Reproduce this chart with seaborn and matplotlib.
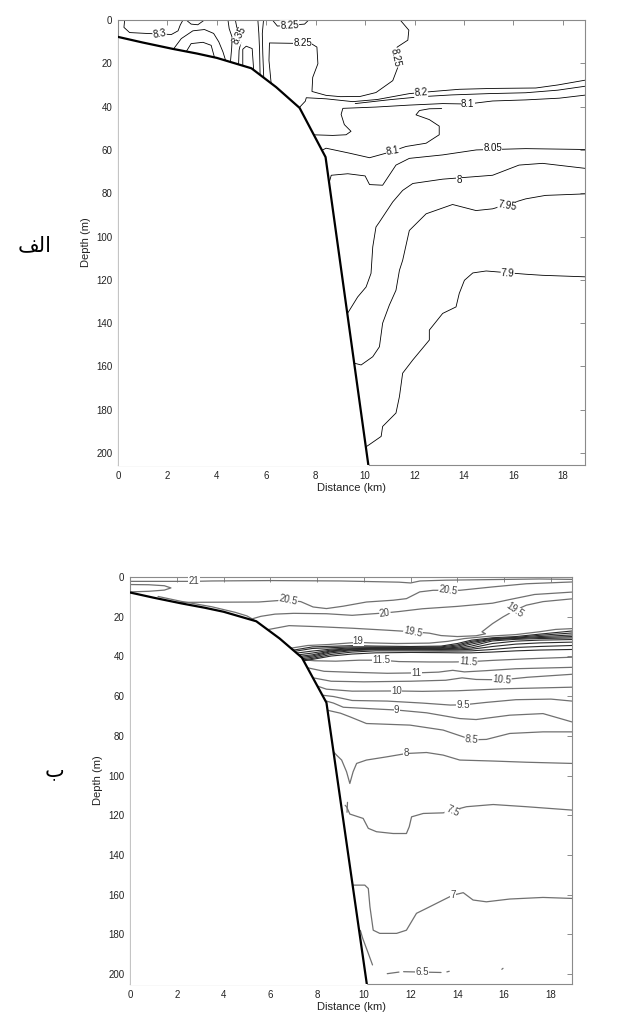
import matplotlib
matplotlib.use("Agg")
import matplotlib.pyplot as plt
import pandas as pd
import seaborn as sns

# ---------------- data (km, depth m) ----------------
bathy_km = [0.0, 1.0, 2.2, 3.2, 4.0, 5.4, 6.4, 7.35, 8.4, 10.15]
bathy_depth = [7.8, 10.4, 13.3, 15.5, 17.5, 22.3, 31.0, 40.6, 63.3, 207.0]

# panel (a) isolines
ph_830 = [(0.27, 0.0), (0.24, 3.4), (0.47, 5.8), (1.15, 6.2), (2.16, 6.7), (2.43, 5.0), (2.52, 2.3), (2.63, 0.0)]
ph_arc = [(2.76, 0.0), (2.96, 1.9), (3.23, 2.2), (3.5, 0.0)]
ph_dome_out = [(2.22, 13.8), (2.56, 8.6), (3.03, 5.0), (3.5, 4.4), (3.87, 6.2), (4.08, 10.1), (4.25, 14.8), (4.35, 18.5)]
ph_dome_in = [(2.74, 15.0), (2.96, 10.9), (3.44, 10.3), (3.77, 11.7), (3.91, 17.5)]
ph_835a = [(4.45, 0.0), (4.5, 4.0), (4.62, 8.0), (4.6, 13.0), (4.55, 19.5)]
ph_835b = [(4.75, 0.0), (4.8, 3.0), (4.92, 7.0), (4.98, 10.0), (4.9, 14.0), (4.88, 20.5)]
ph_usmall = [(5.05, 21.0), (5.05, 13.5), (5.19, 12.1), (5.43, 13.2), (5.49, 23.0)]
ph_v1 = [(5.66, 0.0), (5.70, 6.2), (5.73, 14.0), (5.75, 25.0)]
ph_v2 = [(5.89, 0.0), (5.84, 6.2), (5.86, 15.6), (5.9, 27.0)]
ph_825_top = [(6.25, 0.0), (6.45, 2.8), (6.94, 2.4), (7.55, 1.9), (7.72, 0.0)]
ph_825 = [(11.42, 0.0), (11.77, 4.7), (11.73, 9.3), (11.3, 12.5), (11.25, 17.5), (11.32, 22.0), (11.12, 28.0),
          (10.44, 33.5), (9.8, 35.3), (9.0, 35.4), (8.42, 34.8), (7.85, 33.0), (7.88, 26.5), (8.09, 20.2),
          (8.05, 12.5), (7.82, 10.9), (6.13, 10.6), (6.11, 18.7), (6.2, 29.5)]
ph_820 = [(7.25, 41.5), (7.58, 37.5), (7.62, 35.9), (8.42, 36.4), (9.5, 37.7), (10.5, 36.7), (11.79, 34.0),
          (12.74, 33.0), (13.81, 32.0), (15.16, 31.6), (16.91, 31.4), (17.8, 30.0), (18.9, 27.8)]
ph_815 = [(9.6, 38.6), (11.0, 36.8), (12.3, 35.4), (13.5, 34.6), (15.0, 34.0), (16.5, 33.6), (17.8, 32.4), (18.9, 30.6)]
ph_810 = [(7.85, 53.0), (8.69, 53.3), (9.23, 53.0), (9.43, 51.4), (9.16, 48.3), (9.03, 43.6), (9.1, 40.8),
          (10.44, 40.2), (11.79, 39.3), (13.14, 38.6), (14.15, 38.8), (15.16, 37.4), (16.5, 36.9), (17.86, 36.1), (18.9, 34.7)]
ph_810_low = [(8.2, 60.5), (8.42, 59.2), (9.37, 61.5), (10.18, 63.6), (10.85, 61.5), (11.66, 58.4), (12.47, 56.9),
              (13.0, 53.0), (13.0, 49.0), (12.6, 46.0), (12.06, 43.8), (12.2, 41.8), (12.6, 41.0), (13.1, 40.9)]
ph_805 = [(8.5, 77.0), (8.63, 71.7), (9.3, 71.0), (10.0, 72.0), (10.18, 76.0), (10.71, 76.3), (11.25, 67.0),
          (11.79, 63.9), (13.14, 62.3), (14.5, 60.0), (16.5, 59.4), (18.9, 59.8)]
ph_800 = [(9.2, 137.0), (9.37, 134.0), (9.7, 127.9), (10.04, 123.3), (10.24, 117.0), (10.31, 104.8), (10.44, 95.6),
          (10.58, 93.3), (11.12, 84.0), (11.52, 78.7), (11.93, 75.5), (13.14, 73.5), (15.16, 71.7), (16.23, 67.0),
          (17.18, 66.2), (18.9, 68.5)]
ph_795 = [(9.4, 158.0), (9.84, 159.3), (10.31, 155.5), (10.58, 150.9), (10.71, 140.0), (10.98, 131.7), (11.25, 124.8),
          (11.39, 115.6), (11.52, 111.0), (11.79, 97.2), (12.47, 89.5), (13.54, 85.2), (14.49, 88.0), (15.16, 87.2),
          (16.5, 82.6), (17.3, 81.0), (18.9, 80.3)]
ph_790 = [(10.05, 197.0), (10.17, 196.1), (10.65, 192.3), (10.71, 187.7), (11.25, 181.5), (11.39, 173.9),
          (11.52, 163.1), (11.93, 157.0), (12.6, 147.8), (12.6, 143.2), (13.14, 135.5), (13.68, 132.5),
          (13.81, 126.3), (14.02, 120.2), (14.36, 116.8), (14.9, 115.9), (16.5, 117.4), (17.18, 117.9), (18.9, 118.6)]

ph_lines = [ph_830, ph_arc, ph_dome_out, ph_dome_in, ph_835a, ph_835b, ph_usmall, ph_v1, ph_v2, ph_825_top,
            ph_825, ph_820, ph_815, ph_810, ph_810_low, ph_805, ph_800, ph_795, ph_790]

ph_label_text = ["8.3", "8.35", "8.25", "8.25", "8.25", "8.2", "8.1", "8.1", "8.05", "8", "7.95", "7.9"]
ph_label_km = [1.68, 4.92, 6.94, 7.48, 11.25, 12.26, 14.15, 11.12, 15.16, 13.81, 15.77, 15.77]
ph_label_depth = [6.3, 7.0, 2.4, 10.8, 17.5, 33.6, 38.8, 60.6, 59.3, 73.8, 85.7, 117.1]
ph_label_rot = [10, 62, 3, 0, -78, 4, 0, 10, 0, 0, -10, -3]

# panel (b) isotherms
t_21 = [(0.0, 2.2), (2.73, 2.2), (3.5, 2.0), (6.0, 1.8), (9.0, 2.0), (11.5, 2.6), (12.0, 3.0), (12.4, 2.0),
        (13.5, 1.6), (15.5, 1.3), (17.5, 1.0), (18.9, 1.2)]
t_lens = [(0.0, 3.8), (0.8, 3.9), (1.47, 4.4), (1.75, 5.5), (1.47, 6.6), (0.8, 7.2), (0.0, 7.5)]
t_205 = [(1.8, 12.8), (3.5, 12.7), (5.5, 12.6), (6.3, 11.9), (6.77, 11.7), (7.3, 12.4), (7.83, 15.1), (8.4, 15.9),
         (9.12, 14.7), (10.11, 12.6), (11.25, 11.7), (11.82, 10.9), (12.39, 7.5), (12.96, 6.7), (14.1, 6.7),
         (15.5, 5.0), (16.95, 3.4), (18.9, 2.5)]
t_shore = [(1.2, 9.8), (2.2, 12.3), (3.5, 15.0), (4.5, 17.8), (5.0, 19.6), (5.3, 21.6)]
t_20 = [(5.1, 21.5), (5.6, 19.8), (6.2, 18.7), (7.0, 18.3), (8.4, 18.5), (9.5, 19.3), (10.3, 18.6), (10.9, 18.1),
        (11.5, 17.4), (12.5, 16.0), (14.0, 14.8), (15.5, 13.2), (16.3, 11.2), (17.3, 8.8), (18.9, 7.6)]
t_195 = [(5.9, 26.5), (6.8, 24.5), (8.0, 25.0), (9.5, 25.8), (11.0, 26.8), (12.1, 27.6), (12.8, 28.3), (13.3, 29.5),
         (14.0, 30.0), (14.8, 29.6), (15.2, 28.6), (15.05, 27.6), (15.5, 23.5), (15.95, 20.1), (16.45, 16.8),
         (16.95, 14.2), (17.66, 12.4), (18.9, 11.0)]
t_19 = [(6.8, 36.0), (7.6, 34.5), (8.5, 34.0), (9.3, 33.3), (9.76, 32.9), (10.3, 33.2), (11.4, 33.5), (12.8, 33.3),
        (13.6, 32.4), (14.3, 31.0), (15.5, 29.7), (16.5, 29.0), (17.5, 27.6), (18.2, 26.4), (18.9, 26.0)]
t_115 = [(7.2, 41.5), (7.9, 42.2), (8.8, 42.4), (9.8, 41.9), (10.75, 41.9), (11.5, 42.6), (12.8, 42.8), (13.8, 42.8),
         (14.46, 42.7), (15.5, 42.0), (17.0, 41.2), (18.9, 40.4)]
t_11 = [(7.5, 45.5), (8.3, 47.5), (9.5, 48.0), (11.0, 48.5), (12.25, 48.3), (13.2, 47.9), (13.8, 47.0), (14.3, 47.8),
        (15.2, 47.2), (16.5, 46.2), (18.9, 45.5)]
t_105 = [(7.7, 50.5), (8.6, 52.5), (10.0, 52.8), (12.0, 52.5), (13.5, 52.0), (14.2, 50.8), (14.8, 51.6), (15.9, 51.8),
         (17.0, 50.5), (18.9, 49.0)]
t_10 = [(7.9, 54.5), (8.4, 56.5), (9.5, 57.5), (11.4, 57.4), (12.5, 57.6), (14.0, 57.3), (16.0, 56.3), (18.9, 55.5)]
t_95 = [(8.2, 59.5), (8.7, 60.2), (9.5, 62.2), (11.0, 62.5), (12.5, 63.5), (13.7, 64.5), (14.25, 64.4), (15.2, 63.2),
        (16.5, 61.8), (18.0, 61.5), (18.9, 62.5)]
t_9 = [(8.4, 62.5), (8.7, 63.5), (9.12, 65.6), (10.54, 66.5), (11.4, 67.0), (12.68, 68.4), (14.1, 71.3), (14.8, 71.8),
       (16.24, 69.6), (17.66, 68.8), (18.4, 71.3), (18.9, 73.0)]
t_85 = [(8.4, 67.0), (9.0, 68.6), (9.4, 70.4), (10.11, 73.8), (11.97, 74.6), (13.39, 77.1), (14.25, 80.5), (14.6, 82.0),
        (15.24, 81.8), (16.24, 78.8), (17.66, 78.0), (18.9, 78.0)]
t_8 = [(8.7, 88.0), (8.83, 89.7), (9.05, 92.2), (9.26, 98.1), (9.4, 104.0), (9.54, 98.1), (9.69, 93.9), (10.11, 92.2),
       (10.97, 90.6), (11.82, 88.9), (12.68, 88.4), (13.39, 89.7), (14.1, 92.2), (15.53, 92.7), (16.95, 93.3), (18.9, 93.9)]
t_75 = [(9.2, 115.0), (9.26, 115.7), (9.4, 119.4), (9.97, 121.6), (10.19, 126.6), (10.54, 128.3), (11.25, 129.2),
        (11.82, 129.2), (11.94, 125.8), (12.04, 120.8), (12.54, 119.1), (13.39, 118.8), (14.39, 115.7), (15.53, 114.6),
        (16.95, 115.7), (18.9, 117.4)]
t_75_tick = [(9.3, 113.5), (9.28, 118.5)]
t_7 = [(9.5, 155.2), (10.04, 155.2), (10.19, 156.9), (10.26, 166.1), (10.4, 177.9), (10.68, 179.5), (11.4, 179.5),
       (11.82, 177.9), (12.25, 169.4), (12.68, 166.9), (13.39, 162.7), (13.8, 160.3), (14.25, 159.0), (14.67, 162.7),
       (15.24, 163.6), (16.24, 162.2), (17.66, 161.4), (18.9, 161.9)]
t_slope = [(9.85, 178.0), (9.95, 182.0), (10.19, 189.6), (10.37, 195.4)]
t_65a = [(11.0, 199.8), (11.5, 199.0)]
t_65b = [(11.7, 198.8), (13.3, 199.2)]
t_65c = [(13.55, 198.9), (13.65, 198.6)]
t_65d = [(15.9, 197.6), (15.95, 197.1)]

t_lines = [t_21, t_lens, t_205, t_shore, t_20, t_195, t_19, t_115, t_11, t_105, t_10, t_95, t_9, t_85, t_8,
           t_75, t_75_tick, t_7, t_slope, t_65a, t_65b, t_65c, t_65d]

# thermocline isotherms (depth at thermo_km), 18.5 ... 12 degC
thermo_km = [7.0, 7.8, 8.6, 9.5, 10.5, 12.0, 13.3, 14.0, 14.6, 15.5, 16.5, 17.5, 18.9]
thermo_185 = [36.8, 35.2, 34.9, 34.6, 34.8, 35.0, 34.8, 33.5, 31.8, 30.6, 30.0, 28.8, 27.2]
thermo_18 = [37.5, 36.0, 35.6, 35.2, 35.3, 35.4, 35.2, 34.2, 32.4, 31.0, 30.4, 29.4, 28.2]
thermo_17 = [38.5, 37.3, 36.3, 35.7, 35.6, 35.7, 35.6, 34.8, 33.0, 31.3, 30.7, 30.0, 29.2]
thermo_16 = [39.5, 38.3, 36.8, 36.1, 35.9, 35.9, 35.9, 35.4, 33.8, 31.6, 31.0, 30.5, 30.0]
thermo_15 = [40.3, 39.2, 37.2, 36.4, 36.1, 36.1, 36.2, 35.9, 34.8, 32.2, 31.4, 31.0, 30.7]
thermo_14 = [41.0, 39.8, 37.6, 36.7, 36.3, 36.3, 36.5, 36.3, 35.7, 33.5, 32.3, 31.8, 31.5]
thermo_13 = [41.8, 40.4, 38.2, 37.1, 36.6, 36.6, 36.8, 36.7, 36.4, 35.0, 33.8, 33.2, 32.8]
thermo_125 = [42.5, 41.0, 39.0, 37.8, 37.2, 37.2, 37.3, 37.3, 37.2, 36.5, 35.5, 35.0, 34.5]
thermo_12 = [43.0, 41.5, 39.8, 38.8, 38.2, 38.0, 38.1, 38.2, 38.2, 37.8, 37.2, 36.8, 36.5]
thermo_rows = [thermo_185, thermo_18, thermo_17, thermo_16, thermo_15, thermo_14, thermo_13, thermo_125, thermo_12]

t_label_text = ["21", "20.5", "20.5", "20", "19.5", "19.5", "19", "11.5", "11.5", "11", "10.5", "10", "9.5", "9",
                "8.5", "8", "7.5", "7", "6.5"]
t_label_km = [2.73, 6.77, 13.6, 10.9, 12.1, 16.45, 9.76, 10.75, 14.46, 12.25, 15.9, 11.4, 14.25, 11.4, 14.6, 11.82,
              13.8, 13.8, 12.5]
t_label_depth = [2.2, 11.7, 6.8, 18.1, 27.6, 16.8, 32.3, 42.0, 42.8, 48.3, 51.8, 57.4, 64.4, 67.0, 82.0, 88.9,
                 118.0, 160.3, 198.8]
t_label_rot = [0, -12, -8, 8, -12, -35, 0, 0, -5, 0, -5, 0, 0, 0, -5, 0, -25, 0, 0]

xticks = list(range(0, 19, 2))
yticks = list(range(0, 201, 20))


def lines_frame(lines):
    rows = []
    for i, ln in enumerate(lines):
        for k, d in ln:
            rows.append({"km": k, "depth": d, "line": i})
    return pd.DataFrame(rows)


def thermo_frame():
    rows = []
    for i, r in enumerate(thermo_rows):
        for k, d in zip(thermo_km, r):
            rows.append({"km": k, "depth": d, "line": i})
    return pd.DataFrame(rows)


sns.set_style("white")
plt.rcParams["font.family"] = ["Liberation Sans", "DejaVu Sans"]

fig = plt.figure(figsize=(6.21, 10.14), dpi=100)
ax1 = fig.add_axes([118 / 621, 1 - 465 / 1014, 467 / 621, 445 / 1014])
ax2 = fig.add_axes([130 / 621, 1 - 984 / 1014, 442 / 621, 407 / 1014])


def style_axes(ax, ymax):
    ax.set_xlim(0, 18.9)
    ax.set_ylim(ymax, 0)
    ax.set_xticks(xticks)
    ax.set_yticks(yticks)
    ax.tick_params(direction="in", top=True, right=True, length=3.5, width=0.7, color="#8a8a8a",
                   labelsize=7, labelcolor="#222222", pad=4)
    for s in ax.spines.values():
        s.set_color("#8a8a8a")
        s.set_linewidth(0.8)
    ax.set_xlabel("Distance (km)", fontsize=8, color="#222222", labelpad=2)
    ax.set_ylabel("Depth (m)", fontsize=8, color="#222222", labelpad=4)


def land(ax):
    ax.fill_between(bathy_km, bathy_depth, 210, color="white", zorder=3, lw=0)
    sns.lineplot(x=bathy_km, y=bathy_depth, sort=False, estimator=None, color="black", linewidth=1.6,
                 ax=ax, zorder=4)


def labels(ax, texts, kms, depths, rots, color):
    for s, k, d, r in zip(texts, kms, depths, rots):
        ax.text(k, d, s, rotation=r, ha="center", va="center", fontsize=7, color=color, zorder=6,
                rotation_mode="anchor",
                bbox=dict(facecolor="white", edgecolor="none", pad=0.2))


# ---- panel (a)
sns.lineplot(data=lines_frame(ph_lines), x="km", y="depth", units="line", estimator=None, sort=False,
             color="black", linewidth=0.6, ax=ax1, legend=False)
land(ax1)
labels(ax1, ph_label_text, ph_label_km, ph_label_depth, ph_label_rot, "#111111")
style_axes(ax1, 205.5)

# ---- panel (b)
sns.lineplot(data=lines_frame(t_lines), x="km", y="depth", units="line", estimator=None, sort=False,
             color="#707070", linewidth=0.9, ax=ax2, legend=False)
sns.lineplot(data=thermo_frame(), x="km", y="depth", units="line", estimator=None, sort=False,
             color="#2a2a2a", linewidth=0.8, ax=ax2, legend=False)
land(ax2)
labels(ax2, t_label_text, t_label_km, t_label_depth, t_label_rot, "#444444")
style_axes(ax2, 205)

# panel letters (Persian)
fig.text(35 / 621, 1 - 245 / 1014, "\uFED2\uFEDF\uFE8D", fontsize=15, family="DejaVu Sans",
         ha="center", va="center", color="black")
fig.text(55 / 621, 1 - 770 / 1014, "\u0628", fontsize=15, family="DejaVu Sans",
         ha="center", va="center", color="black")

fig.savefig("out.png", dpi=100, facecolor="white")
